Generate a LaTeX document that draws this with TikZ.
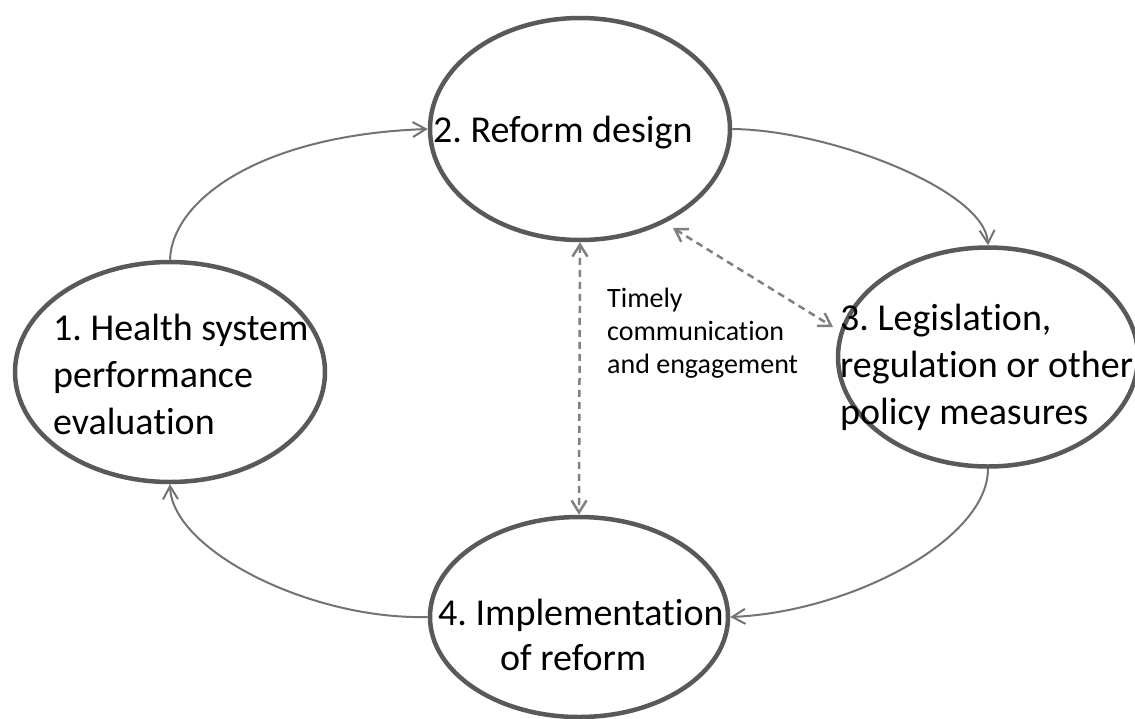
\documentclass[tikz,border=0pt]{standalone}
\usepackage{fontspec}
\setmainfont{Carlito}[Ligatures={NoCommon}]
\usetikzlibrary{shapes.geometric,arrows.meta}
\definecolor{ringgray}{HTML}{595959}
\definecolor{flowgray}{HTML}{737373}
\definecolor{dashgray}{HTML}{808080}
\frenchspacing
\begin{document}
\begin{tikzpicture}[x=1pt,y=-1pt,
  stage/.style={draw=ringgray, line width=4.5pt, ellipse, inner sep=0pt},
  stagetext/.style={anchor=base west, inner sep=0pt, font=\fontsize{38}{47}\selectfont, align=left},
  notetext/.style={anchor=base west, inner sep=0pt, font=\fontsize{28}{33}\selectfont, align=left},
  flowarrow/.style={draw=flowgray, line width=2pt, -{Straight Barb[length=13pt,width=15pt]}},
  linkarrow/.style={draw=dashgray, line width=2.5pt, dash pattern=on 7pt off 5pt,
    {Straight Barb[length=12pt,width=15pt]}-{Straight Barb[length=12pt,width=15pt]}}
]
\useasboundingbox (0,0) rectangle (1135,718);
\clip (0,0) rectangle (1135,718);

% the four stages of the cycle
\node[stage, minimum width=310pt, minimum height=220pt] (e1) at (170,372) {};
\node[stage, minimum width=300pt, minimum height=222pt] (e2) at (580,129) {};
\node[stage, minimum width=300pt, minimum height=219pt] (e3) at (988,357) {};
\node[stage, minimum width=298pt, minimum height=200pt] (e4) at (579,617) {};

% stage labels (multi-line nodes sit on the baseline of their last line)
\node[stagetext] (t1) at (53,434) {1. Health system\\performance\\evaluation};
\node[stagetext] (t2) at (433,142) {2. Reform design};
\node[stagetext] (t3) at (840,424) {3. Legislation,\\regulation or other\\policy measures};
\node[stagetext] (t4a) at (438,625) {4. Implementation};
\node[stagetext] (t4b) at (500,670) {of reform};
\node[notetext] (tc) at (607,373) {Timely\\communication\\and engagement};

% cycle arrows
\draw[flowarrow] (e1.north) .. controls (172,200) and (260,135) .. (e2.west);
\draw[flowarrow] (e2.east) .. controls (830,130) and (985,190) .. (e3.north);
\draw[flowarrow] (e3.south) .. controls (988,540) and (850,612) .. (e4.east);
\draw[flowarrow] (e4.west) .. controls (310,620) and (172,550) .. (e1.south);

% two-way communication links
\coordinate (d2) at (673,228);
\coordinate (d3) at (833,327);
\draw[linkarrow] (e2.south) -- (e4.north);
\draw[linkarrow] (d2) -- (d3);
\end{tikzpicture}
\end{document}
